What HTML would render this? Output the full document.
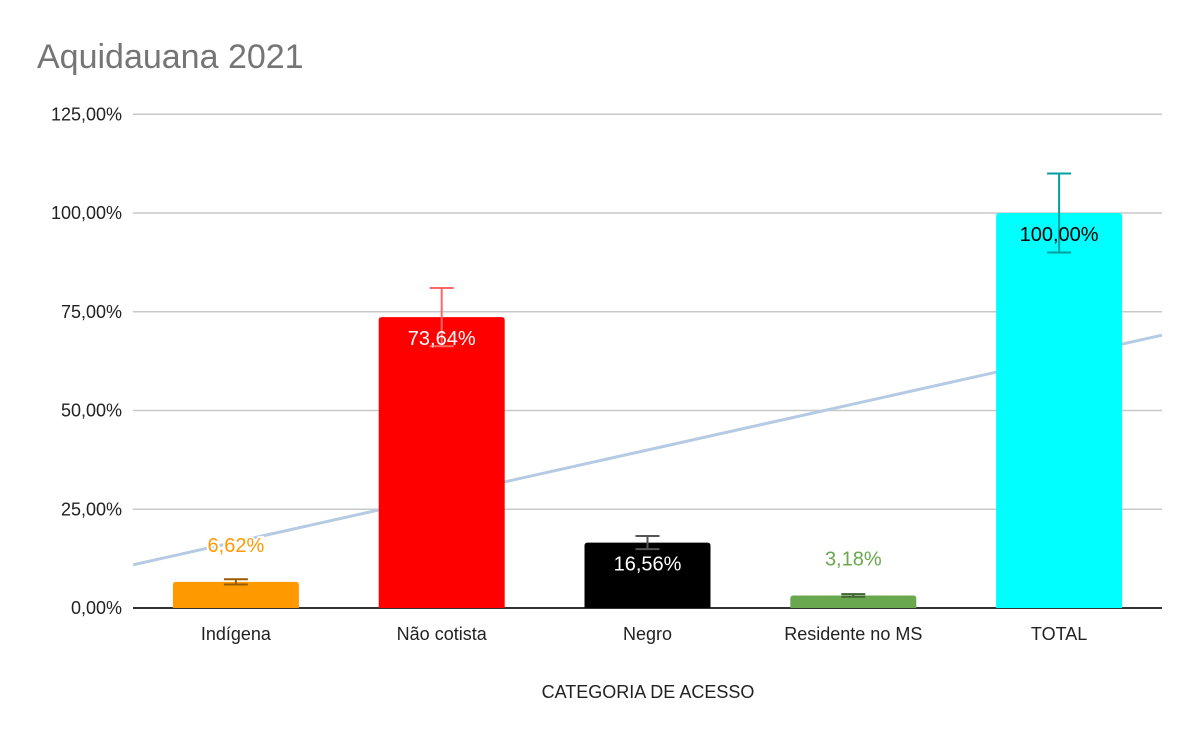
<!DOCTYPE html>
<html><head><meta charset="utf-8"><style>
body{margin:0;background:#fff;font-family:"Liberation Sans",Arial,sans-serif}
svg text{font-family:"Liberation Sans",Arial,sans-serif}
</style></head><body>
<svg width="1200" height="742" viewBox="0 0 1200 742">
<rect width="1200" height="742" fill="#fff"/>
<text x="37" y="68" font-size="34" fill="#757575">Aquidauana 2021</text>
<g id="grid"></g><g id="trend"></g><g id="bars"></g><g id="labels"></g>
<text x="648" y="698" font-size="18" text-anchor="middle" fill="#222">CATEGORIA DE ACESSO</text>
</svg>
<script>
const categories=["Indígena","Não cotista","Negro","Residente no MS","TOTAL"];
const values=[6.62,73.64,16.56,3.18,100];
const valueLabels=["6,62%","73,64%","16,56%","3,18%","100,00%"];
const ticks=[0,25,50,75,100,125];
const tickLabels=["0,00%","25,00%","50,00%","75,00%","100,00%","125,00%"];
const errPct=0.10;
const colors=["#ff9900","#ff0000","#000000","#6aa84f","#00ffff"];
const errColors=["#995c00","#ff6666","#555555","#3f6530","#00a0a0"];
const labelInside=[false,true,true,false,true];
const labelColors=["#ff9900","#ffffff","#ffffff","#6aa84f","#000000"];
const NS="http://www.w3.org/2000/svg";
const x0=133,x1=1162,y0=608,pxPer=395/100;
const band=(x1-x0)/categories.length;
const Y=v=>y0-v*pxPer, X=i=>x0+band*(i+0.5);
function mk(t,a,p){const e=document.createElementNS(NS,t);for(const k in a)e.setAttribute(k,a[k]);p.appendChild(e);return e;}
const g=document.getElementById('grid');
ticks.forEach((t,i)=>{
 const l=mk('line',{x1:x0,x2:x1,y1:Y(t),y2:Y(t),stroke:i==0?'#333':'#c8c8c8','stroke-width':i==0?2:1.5},g);
 
 
 const tx=mk('text',{x:122,y:Y(t)+6,'font-size':18,'text-anchor':'end',fill:'#222'},g);tx.textContent=tickLabels[i];
 
 
});
// linear trendline
const n=values.length;let mx=0,my=0;values.forEach((v,i)=>{mx+=i+1;my+=v});mx/=n;my/=n;
let sxy=0,sxx=0;values.forEach((v,i)=>{sxy+=(i+1-mx)*(v-my);sxx+=(i+1-mx)**2});
const sl=sxy/sxx,ic=my-sl*mx;
const tl=mk('line',{x1:x0,y1:Y(ic+sl*0.5),x2:x1,y2:Y(ic+sl*(n+0.5)),stroke:'#b4cbe3','stroke-width':3},document.getElementById('trend'));


const b=document.getElementById('bars'),lb=document.getElementById('labels');
const bw=126;
values.forEach((v,i)=>{
 const cx=X(i);
 const r=mk('path',{d:`M${cx-bw/2},${y0} V${Y(v)+3} q0,-3 3,-3 H${cx+bw/2-3} q3,0 3,3 V${y0} Z`,fill:colors[i]},b);
 
 
 const hi=Y(v*(1+errPct)),lo=Y(v*(1-errPct));
 const eg=mk('g',{stroke:errColors[i],'stroke-width':2},b);
 
 
 mk('line',{x1:cx,x2:cx,y1:hi,y2:lo},eg);
 mk('line',{x1:cx-12,x2:cx+12,y1:hi,y2:hi},eg);
 mk('line',{x1:cx-12,x2:cx+12,y1:lo,y2:lo},eg);
 const ly=labelInside[i]?Y(v)+28:Y(v)-30;
 const t=mk('text',{x:cx,y:ly,'font-size':20,'text-anchor':'middle',fill:labelColors[i]},lb);
 if(!labelInside[i]){t.setAttribute('stroke','#fff');t.setAttribute('stroke-width','4');t.setAttribute('paint-order','stroke');}
 t.textContent=valueLabels[i];
 
 
 const c=mk('text',{x:cx,y:640,'font-size':18,'text-anchor':'middle',fill:'#222'},lb);c.textContent=categories[i];
 
 
});
</script>
</body></html>
